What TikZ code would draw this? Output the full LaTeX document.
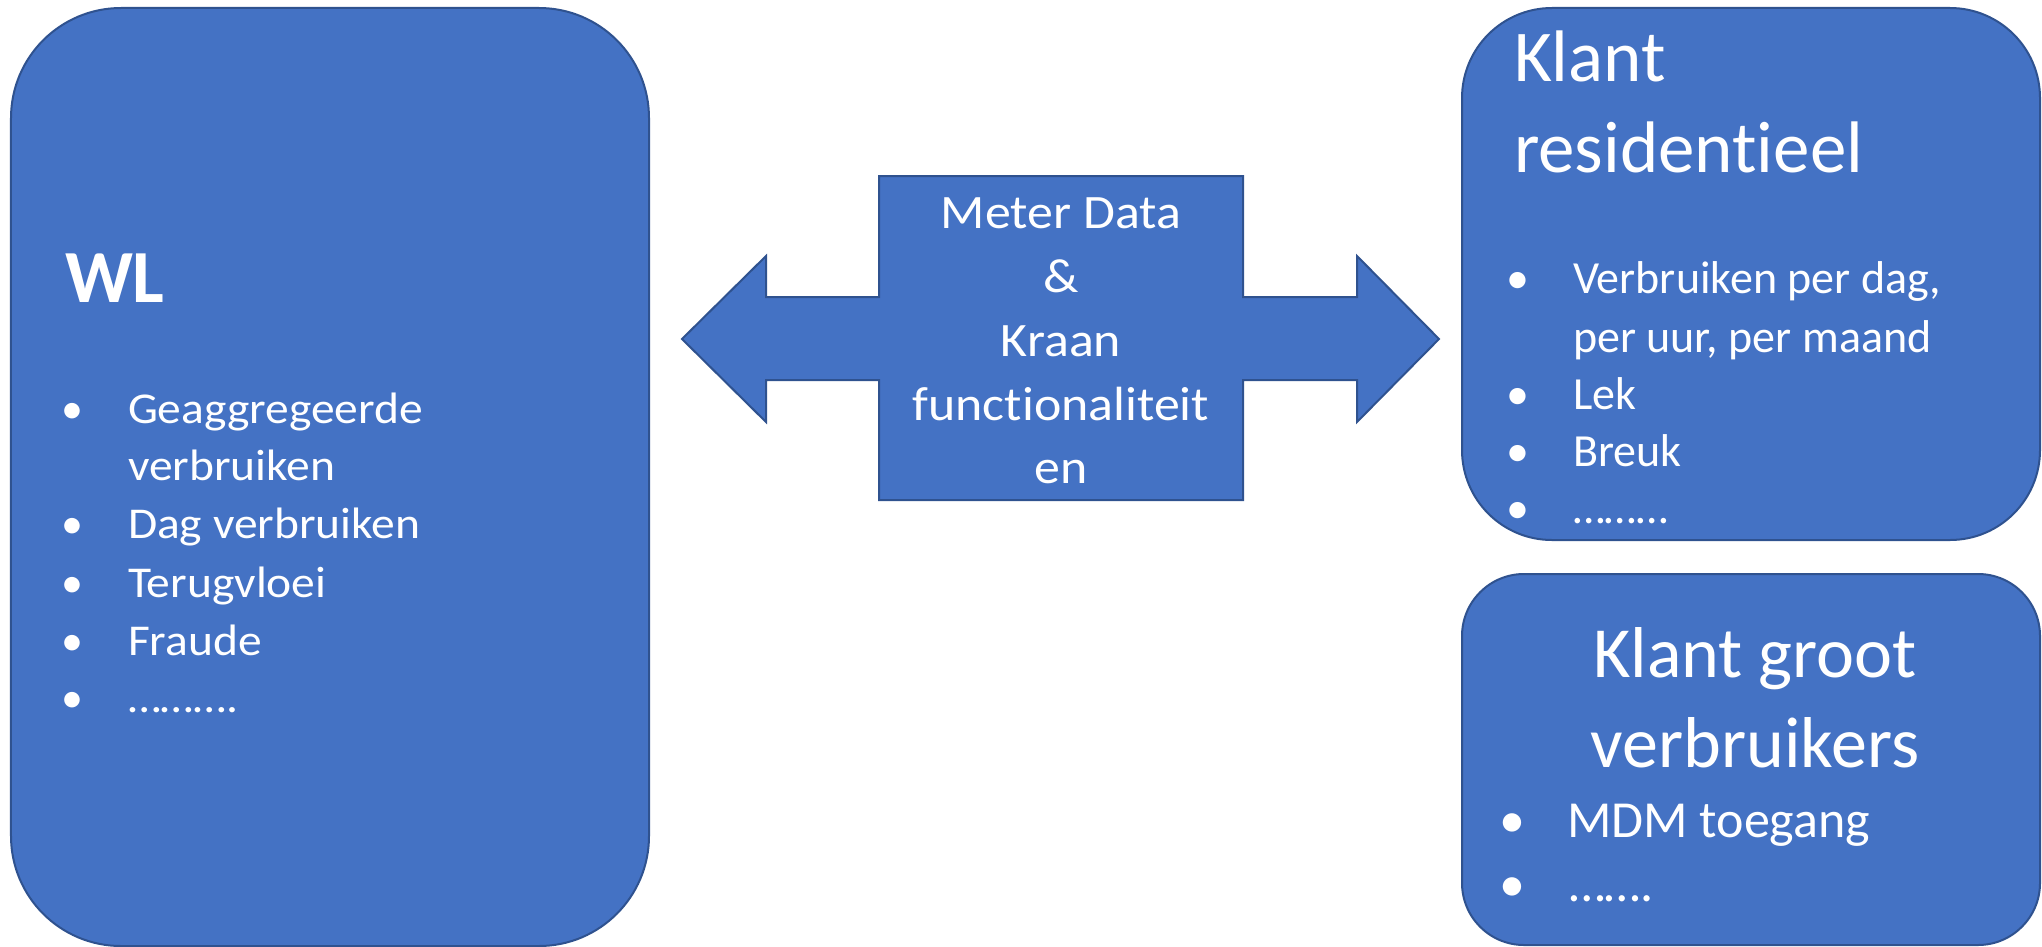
\documentclass[tikz,border=0pt]{standalone}
\usepackage{fontspec}
\setmainfont{Carlito}[Ligatures={NoCommon}]
\definecolor{fillc}{HTML}{4472C4}
\definecolor{bordc}{HTML}{2F528F}
\newcommand{\myfs}[1]{\fontsize{#1bp}{#1bp}\selectfont}
\begin{document}
\begin{tikzpicture}[x=1bp,y=-1bp,
  panel/.style={draw=bordc, fill=fillc, line width=2bp, inner sep=0, outer sep=0},
  txt/.style={text=white, inner sep=0, outer sep=0, anchor=base west},
  ctxt/.style={text=white, inner sep=0, outer sep=0, anchor=base},
  bul/.style={text=white, inner sep=0, outer sep=0, anchor=base},
]
\useasboundingbox (0,0) rectangle (2042,947);
% boxes
\node[panel, minimum width=638bp, minimum height=938bp, rounded corners=110bp] (wl) at (330,477) {};
\node[panel, minimum width=578bp, minimum height=532bp, rounded corners=90bp] (kr) at (1751,274) {};
\node[panel, minimum width=578bp, minimum height=371bp, rounded corners=62bp] (kg) at (1751,759.5) {};
% double arrow
\draw[panel] (682,339) -- (766,256) -- (766,297) -- (879,297) -- (879,176) -- (1243,176) -- (1243,297)
  -- (1357,297) -- (1357,256) -- (1439,339) -- (1357,422) -- (1357,380) -- (1243,380) -- (1243,500)
  -- (879,500) -- (879,380) -- (766,380) -- (766,422) -- cycle;
% WL text
\node[txt, font=\myfs{75}\bfseries] (wlt) at (65,302) {WL};
\begin{scope}[every node/.append style={font=\myfs{44}}]
\node[bul] (wb1) at (72,423) {•};
\node[txt] (wi1) at (128,423) {\scalebox{1.08}[1]{Geaggregeerde}};
\node[txt] (wi1b) at (128,480) {\scalebox{1.08}[1]{verbruiken}};
\node[bul] (wb2) at (72,538) {•};
\node[txt] (wi2) at (128,538) {\scalebox{1.08}[1]{Dag verbruiken}};
\node[bul] (wb3) at (72,597) {•};
\node[txt] (wi3) at (128,597) {\scalebox{1.08}[1]{Terugvloei}};
\node[bul] (wb4) at (72,655) {•};
\node[txt] (wi4) at (128,655) {\scalebox{1.08}[1]{Fraude}};
\node[bul] (wb5) at (72,712) {•};
\node[txt] (wi5) at (128,712) {\scalebox{1.08}[1]{……….}};
\end{scope}
% center text
\begin{scope}[every node/.append style={font=\myfs{48}}]
\node[ctxt] (c1) at (1061,228) {\scalebox{1.08}[1]{Meter Data}};
\node[ctxt] (c2) at (1061,292) {\scalebox{1.08}[1]{\&}};
\node[ctxt] (c3) at (1061,356) {\scalebox{1.08}[1]{Kraan}};
\node[ctxt] (c4) at (1061,420) {\scalebox{1.08}[1]{funct\kern0pt ionaliteit}};
\node[ctxt] (c5) at (1061,483) {\scalebox{1.08}[1]{en}};
\end{scope}
% Klant residentieel
\node[txt, font=\myfs{73}] (krt1) at (1514,81) {Klant};
\node[txt, font=\myfs{73}] (krt2) at (1514,172) {resident\kern0pt ieel};
\begin{scope}[every node/.append style={font=\myfs{46}}]
\node[bul] (kb1) at (1518,293) {•};
\node[txt] (ki1) at (1573,293) {Verbruiken per dag,};
\node[txt] (ki1b) at (1573,352) {per uur, per maand};
\node[bul] (kb2) at (1518,409) {•};
\node[txt] (ki2) at (1573,409) {Lek};
\node[bul] (kb3) at (1518,466) {•};
\node[txt] (ki3) at (1573,466) {Breuk};
\node[bul] (kb4) at (1518,523) {•};
\node[txt] (ki4) at (1573,523) {………};
\end{scope}
% Klant groot verbruikers
\node[ctxt, font=\myfs{72}] (kgt1) at (1755,677) {Klant groot};
\node[ctxt, font=\myfs{72}] (kgt2) at (1755,767) {verbruikers};
\begin{scope}[every node/.append style={font=\myfs{52}}]
\node[bul] (gb1) at (1512,837) {•};
\node[txt] (gi1) at (1567,837) {MDM toegang};
\node[bul] (gb2) at (1512,901) {•};
\node[txt] (gi2) at (1569,901) {…….};
\end{scope}
\end{tikzpicture}
\end{document}
